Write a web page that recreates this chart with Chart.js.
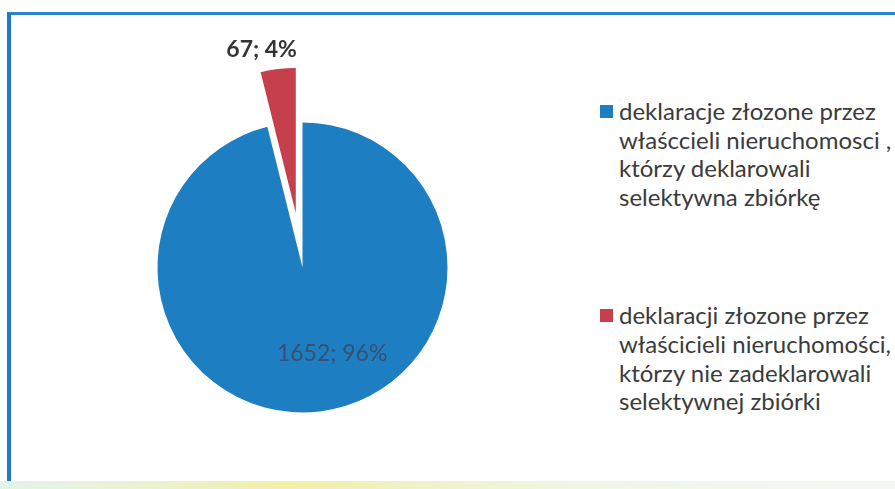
<!DOCTYPE html>
<html>
<head>
<meta charset="utf-8">
<script src="https://cdn.jsdelivr.net/npm/chart.js@4/dist/chart.umd.min.js"></script>
<style>
  html, body { margin: 0; padding: 0; width: 895px; height: 489px; overflow: hidden; background: #ffffff; }
  #frame { position: absolute; left: 7px; top: 12px; width: 900px; height: 470px;
           border-left: 4px solid #1f78c8; border-top: 3px solid #2b80d0; box-sizing: border-box; }
  #band { position: absolute; left: 0; bottom: 0; width: 895px; height: 8px;
          background: linear-gradient(to right, #e4f3ea 0%, #ebf2d0 18%, #f2efa6 32%, #f0f2c4 45%, #eef6e6 65%, #f4f8f4 100%); }
  #wrap { position: absolute; left: 0; top: 0; width: 600px; height: 489px; }
  #legend { position: absolute; left: 600px; top: 97px; margin: 0; padding: 0; list-style: none;
            font-family: Lato, "Open Sans", sans-serif; font-size: 24px; line-height: 28.6px; color: #3b3b3b; }
  #legend li { position: relative; padding-left: 19px; margin-bottom: 90px; white-space: nowrap; }
  #legend li span.box { position: absolute; left: 0; top: 8px; width: 13px; height: 13px; }
</style>
</head>
<body>
<div id="frame"></div>
<div id="band"></div>
<div id="wrap"><canvas id="c"></canvas></div>
<ul id="legend"></ul>
<script>
// ---- data ----
const categories = [
  ['deklaracje złozone przez', 'właśccieli nieruchomosci ,', 'którzy deklarowali', 'selektywna zbiórkę'],
  ['deklaracji złozone przez', 'właścicieli nieruchomości,', 'którzy nie zadeklarowali', 'selektywnej zbiórki']
];
const values = [1652, 67];
const colors = ['#1d7fc2', '#c63f4c'];
const explode = [0, 55];

// Arc that is moved out by its offset without Chart.js' extra radius / angle trimming
class ExplodedArc extends Chart.ArcElement {
  static id = 'explodedArc';
  draw(ctx) {
    const opts = this.options;
    const off = opts.offset || 0;
    if (!off) { super.draw(ctx); return; }
    const half = (this.startAngle + this.endAngle) / 2;
    ctx.save();
    ctx.translate(Math.cos(half) * off, Math.sin(half) * off);
    this.options = Object.assign({}, opts, { offset: 0 });
    super.draw(ctx);
    this.options = opts;
    ctx.restore();
  }
}
class ExplodedPie extends Chart.PieController {
  static id = 'explodedPie';
  static defaults = { dataElementType: 'explodedArc' };
}
Chart.register(ExplodedArc, ExplodedPie);

// "value; percent" labels
const valueLabels = {
  id: 'valueLabels',
  afterDatasetsDraw(chart, args, opts) {
    const meta = chart.getDatasetMeta(0);
    const R = meta.controller.outerRadius;
    const data = chart.data.datasets[0].data;
    const total = data.reduce((a, b) => a + b, 0);
    const ctx = chart.ctx;
    meta.data.forEach((arc, i) => {
      const st = opts.styles[i];
      const mid = (arc.startAngle + arc.endAngle) / 2;
      const r = st.rel * R + st.extra;
      const x = arc.x + Math.cos(mid) * r + st.dx;
      const y = arc.y + Math.sin(mid) * r + st.dy;
      ctx.save();
      ctx.font = st.font;
      ctx.fillStyle = st.color;
      ctx.textAlign = 'center';
      ctx.textBaseline = 'middle';
      ctx.fillText(data[i] + '; ' + Math.round(data[i] / total * 100) + '%', x, y);
      ctx.restore();
    });
  }
};

// HTML legend built from the chart's own legend items
const htmlLegend = {
  id: 'htmlLegend',
  afterUpdate(chart) {
    const ul = document.getElementById('legend');
    ul.innerHTML = '';
    const items = chart.options.plugins.legend.labels.generateLabels(chart);
    items.forEach(item => {
      const li = document.createElement('li');
      const box = document.createElement('span');
      box.className = 'box';
      box.style.background = item.fillStyle;
      li.appendChild(box);
      const lines = Array.isArray(item.text) ? item.text : [item.text];
      lines.forEach((t, k) => {
        if (k) li.appendChild(document.createElement('br'));
        li.appendChild(document.createTextNode(t));
      });
      ul.appendChild(li);
    });
  }
};

new Chart(document.getElementById('c'), {
  type: 'explodedPie',
  data: {
    labels: categories,
    datasets: [{
      data: values,
      backgroundColor: colors,
      borderWidth: 0,
      offset: explode,
      clip: false
    }]
  },
  options: {
    responsive: true,
    maintainAspectRatio: false,
    animation: false,
    events: [],
    layout: { padding: { left: 130, right: 125, top: 95, bottom: 49 } },
    plugins: {
      legend: { display: false },
      tooltip: { enabled: false },
      valueLabels: {
        styles: [
          { rel: 0.6, extra: 0, dx: 19, dy: 0, font: '23px Lato, "Open Sans", sans-serif', color: '#3a4f6e' },
          { rel: 1, extra: 75, dx: -14, dy: 0, font: 'bold 23px Lato, "Open Sans", sans-serif', color: '#333333' }
        ]
      }
    }
  },
  plugins: [valueLabels, htmlLegend]
});
</script>
</body>
</html>
